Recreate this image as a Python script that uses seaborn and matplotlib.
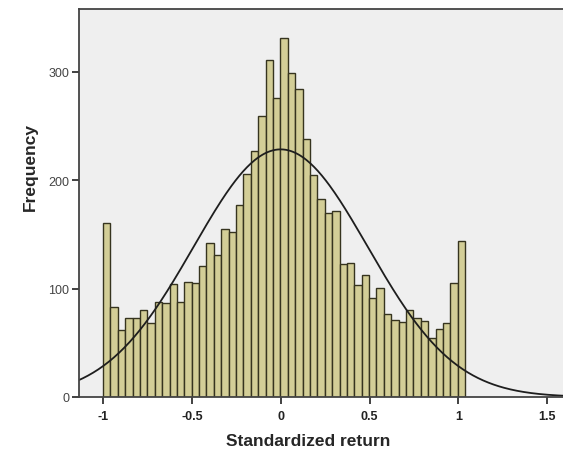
import numpy as np
import pandas as pd
import matplotlib
matplotlib.use("Agg")
import matplotlib.pyplot as plt
import seaborn as sns

# bin counts, left to right
counts = [161, 83, 62, 73, 73, 80, 68, 88, 87, 104,
          88, 106, 105, 121, 142, 131, 155, 152, 177, 206,
          227, 259, 311, 276, 331, 299, 284, 238, 205, 183,
          170, 172, 123, 124, 103, 113, 91, 101, 77, 71,
          69, 80, 73, 70, 54, 63, 68, 105, 144]
bin_start = -1.0
bin_width = 0.0416

# fitted normal curve
fit_mean = 0.0
fit_sd = 0.49

x_ticks = [-1, -0.5, 0, 0.5, 1, 1.5]
x_tick_labels = ["-1", "-0.5", "0", "0.5", "1", "1.5"]
y_ticks = [0, 100, 200, 300]

edges = bin_start + bin_width * np.arange(len(counts) + 1)
centers = (edges[:-1] + edges[1:]) / 2
df = pd.DataFrame({"value": centers, "count": counts})

n_total = sum(counts)
grid = np.linspace(-1.2, 1.7, 400)
pdf = np.exp(-0.5 * ((grid - fit_mean) / fit_sd) ** 2) / (fit_sd * np.sqrt(2 * np.pi))
curve = pd.DataFrame({"x": grid, "y": n_total * bin_width * pdf})

sns.set_style("white")
plt.rcParams['font.family'] = ['Liberation Sans', 'DejaVu Sans']

fig = plt.figure(figsize=(5.63, 4.56), dpi=100)
ax = fig.add_axes([79 / 563, 1 - 398 / 456, 1 - 79 / 563, (398 - 10) / 456])
ax.set_facecolor("#EFEFEF")

sns.histplot(data=df, x="value", weights="count", bins=len(counts),
             binrange=(edges[0], edges[-1]), ax=ax,
             color="#D3CE97", edgecolor="#36341F", linewidth=1.0, alpha=1.0)
sns.lineplot(data=curve, x="x", y="y", ax=ax, color="#1E1E1E", linewidth=1.3)

ax.set_xlim(-1.135, 1.589)
ax.set_ylim(0, 358)
ax.set_xticks(x_ticks)
ax.set_xticklabels(x_tick_labels, fontsize=9, fontweight="bold", color="#222222")
ax.set_yticks(y_ticks)
ax.set_yticklabels([str(t) for t in y_ticks], fontsize=9, color="#444444")
ax.tick_params(axis="both", direction="out", length=5, width=1.3, color="#333333",
               bottom=True, left=True, pad=2)
ax.tick_params(axis="x", pad=4)

ax.set_xlabel("Standardized return", fontsize=12.5, fontweight="bold")
ax.set_ylabel("Frequency", fontsize=12.5, fontweight="bold")
ax.xaxis.set_label_coords(0.473, -0.111)
ax.yaxis.set_label_coords(-0.101, 0.595)
ax.xaxis.label.set_va("center")
ax.yaxis.label.set_va("center")

for side in ["left", "bottom", "top"]:
    ax.spines[side].set_color("#444444")
    ax.spines[side].set_linewidth(1.3)
ax.spines["right"].set_visible(False)

fig.savefig("out.png", dpi=100)
plt.close(fig)
